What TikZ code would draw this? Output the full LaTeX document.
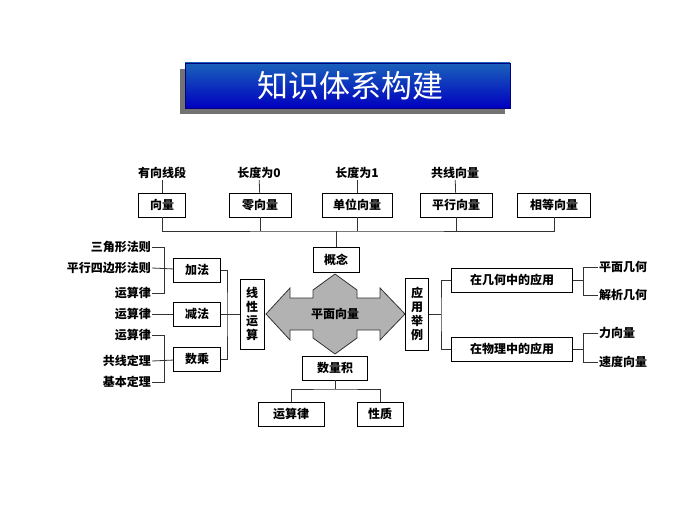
\documentclass[tikz,border=0pt]{standalone}
\usepackage{fontspec}
\setmainfont{Noto Sans CJK SC}
\usetikzlibrary{positioning, calc}

\begin{document}
\begin{tikzpicture}[x=1pt, y=-1pt]
		\tikzset{
			box/.style={draw, thick, fill=white, inner sep=0pt, minimum height=24pt, font=\fontsize{12}{14}\selectfont\bfseries},
			word/.style={inner sep=1pt, font=\fontsize{12}{14}\selectfont\bfseries},
			vbox/.style={draw, thick, fill=white, inner sep=0pt, minimum width=24pt, minimum height=70pt, align=center, font=\fontsize{12}{14}\selectfont\bfseries},
			link/.style={draw, thick, black!80}
		}
		\useasboundingbox (0,0) rectangle (700,524);

		% Title bar
		\fill[black!55] (180,69) rectangle (505,114);
		\shade[top color=blue!55!cyan!70!black!90, bottom color=blue!75!black, draw=blue!50!black] (185,63) rectangle (510,108);
		\node[text=white, font=\fontsize{31}{34}\selectfont] (title) at (350,86) {知识体系构建};

		% Concepts row
		\node[word] (t1) at (162,173) {有向线段};
		\node[word] (t2) at (259,173) {长度为0};
		\node[word] (t3) at (357,173) {长度为1};
		\node[word] (t4) at (455,173) {共线向量};
		\node[box, minimum width=47pt] (c1) at (162,205) {向量};
		\node[box, minimum width=62pt] (c2) at (260,205) {零向量};
		\node[box, minimum width=70pt] (c3) at (357,205) {单位向量};
		\node[box, minimum width=72pt] (c4) at (456,205) {平行向量};
		\node[box, minimum width=73pt] (c5) at (554,205) {相等向量};
		\node[box, minimum width=46pt, minimum height=25pt] (gainian) at (336,260) {概念};
		\coordinate (bus) at (336,231);

		\draw[link] (t1) -- (c1);
		\draw[link] (t2) -- (c2);
		\draw[link] (t3) -- (c3);
		\draw[link] (t4) -- (c4);
		\draw[link] (c1.south) |- (bus) -| (c5.south);
		\foreach \n in {c2, c3, c4} \draw[link] (\n.south) -- (\n.south |- bus);
		\draw[link] (bus) -- (gainian);

		% Centre arrow
		\filldraw[thick, fill=black!30, draw=black!80] (335,274) -- ++(22,16) -- ++(0,8) -- ++(23,0) -- ++(0,-10)
			-- (405,314) -- (380,340) -- ++(0,-10) -- ++(-23,0) -- ++(0,8) -- (335,354)
			-- (313,338) -- ++(0,-8) -- ++(-23,0) -- ++(0,10) -- (266,314) -- (290,288) -- ++(0,10) -- ++(23,0) -- ++(0,-8) -- cycle;
		\node[word] (center) at (335,314) {平面向量};

		% Linear operations
		\node[vbox] (xianxing) at (252,314) {线\\性\\运\\算};
		\node[box, minimum width=47pt] (jia) at (197,270) {加法};
		\node[box, minimum width=47pt] (jian) at (197,314) {减法};
		\node[box, minimum width=47pt] (cheng) at (197,359) {数乘};
		\node[word, anchor=east] (l1) at (152,247) {三角形法则};
		\node[word, anchor=east] (l2) at (152,268) {平行四边形法则};
		\node[word, anchor=east] (l3) at (152,293) {运算律};
		\node[word, anchor=east] (l4) at (152,314) {运算律};
		\node[word, anchor=east] (l5) at (152,335) {运算律};
		\node[word, anchor=east] (l6) at (152,361) {共线定理};
		\node[word, anchor=east] (l7) at (152,382) {基本定理};
		\coordinate (jl) at (227,314);

		\draw[link] (l1.east) -| (164,293) -- (l3.east);
		\draw[link] (l2.east) -- (jia);
		\draw[link] (l4) -- (jian);
		\draw[link] (l5.east) -| (164,382) -- (l7.east);
		\draw[link] (l6.east) -- (cheng);
		\draw[link] (jia.east) -| (jl) |- (cheng.east);
		\draw[link] (jian) -- (xianxing);

		% Inner product
		\node[box, minimum width=65pt] (shuliang) at (335,368) {数量积};
		\node[box, minimum width=66pt] (yunsuan) at (291,414) {运算律};
		\node[box, minimum width=46pt] (xingzhi) at (380,414) {性质};
		\draw[link] (shuliang.south) -- (335,389);
		\draw[link] (yunsuan.north) |- (335,389) -| (xingzhi.north);

		% Applications
		\node[vbox, minimum width=23pt, minimum height=72pt] (yingyong) at (417,314) {应\\用\\举\\例};
		\node[box, minimum width=121pt] (jihe) at (512,280) {在几何中的应用};
		\node[box, minimum width=121pt] (wuli) at (512,349) {在物理中的应用};
		\node[word, anchor=west] (r1) at (598,267) {平面几何};
		\node[word, anchor=west] (r2) at (598,295) {解析几何};
		\node[word, anchor=west] (r3) at (598,333) {力向量};
		\node[word, anchor=west] (r4) at (598,362) {速度向量};
		\draw[link] (jihe.west) -| (441,314) |- (wuli.west);
		\draw[link] (yingyong) -- (441,314);
		\draw[link] (r1.west) -| (583,295) -- (r2.west);
		\draw[link] (jihe) -- (583,280);
		\draw[link] (r3.west) -| (583,362) -- (r4.west);
		\draw[link] (wuli) -- (583,349);
	\end{tikzpicture}
\end{document}
